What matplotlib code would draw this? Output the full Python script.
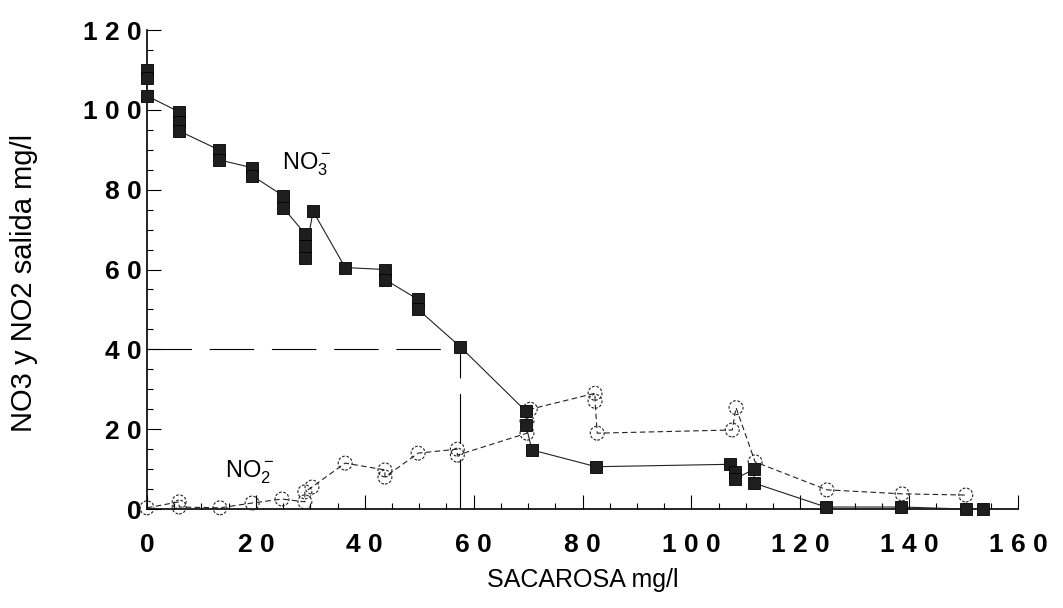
import matplotlib
matplotlib.use('Agg')
import matplotlib.pyplot as plt
from matplotlib.ticker import FixedLocator, FixedFormatter, MultipleLocator

# --- fonts ---
plt.rcParams['font.family'] = ['Liberation Sans', 'DejaVu Sans']
plt.rcParams['mathtext.default'] = 'regular'

# --- data ---
# NO3- (filled squares), in plotting order
no3_x = [0, 0, 0, 5.9, 5.9, 5.9, 13.2, 13.2, 19.3, 19.3, 25.0, 25.0,
         29.0, 29.0, 29.0, 30.5, 36.4, 43.7, 43.7, 49.8, 49.8, 57.5,
         69.6, 69.6, 70.7, 82.5, 107.0, 108.0, 108.0, 111.5, 111.5,
         124.7, 138.5, 150.4, 153.5]
no3_y = [110, 108, 103.5, 99.5, 97, 94.7, 90, 87.5, 85.5, 83.5, 78.5, 75.5,
         69, 66, 63, 74.6, 60.5, 60, 57.5, 52.5, 50, 40.7,
         24.5, 21, 14.8, 10.6, 11.2, 9.3, 7.5, 10, 6.5,
         0.5, 0.5, 0, 0]

# NO2- (open circles), in plotting order
no2_x = [0, 5.9, 5.9, 13.4, 19.3, 24.8, 29.0, 29.0, 30.3, 36.4, 43.7, 43.7,
         49.8, 57.0, 57.0, 69.8, 69.8, 70.4, 82.3, 82.3, 82.7, 107.5,
         108.2, 111.7, 124.9, 138.7, 150.4]
no2_y = [0.3, 1.8, 0.5, 0.3, 1.5, 2.5, 1.8, 4.3, 5.5, 11.5, 9.8, 8,
         14, 15, 13.5, 19, 22, 25, 29, 27, 19, 19.8,
         25.4, 11.8, 4.8, 3.8, 3.5]

# guide lines: sucrose needed for 40 mg/l NO3
ref_x = 57.5
ref_y = 40

x_ticks = [0, 20, 40, 60, 80, 100, 120, 140, 160]
y_ticks = [0, 20, 40, 60, 80, 100, 120]

fig = plt.figure(figsize=(10.63, 6.08), dpi=100)
ax = fig.add_axes([0.1383, 0.1628, 0.8194, 0.7878])

# guide lines
ax.plot([0, ref_x], [ref_y, ref_y], color='black', lw=0.8, ls=(0, (40, 16)))
ax.plot([ref_x, ref_x], [0, ref_y], color='black', lw=0.8, ls=(0, (45, 14)))

# series lines
ax.plot(no3_x, no3_y, color='#222222', lw=0.8, ls='-', clip_on=False, zorder=3)
ax.plot(no2_x, no2_y, color='#222222', lw=0.8, ls=(0, (5, 3)), clip_on=False, zorder=3)

# markers
ax.plot(no3_x, no3_y, ls='none', marker='s', ms=9, mfc='#1e1e1e',
        mec='black', mew=0.6, clip_on=False, zorder=4)
ax.scatter(no2_x, no2_y, s=100, facecolors='none', edgecolors='#222222',
           linewidths=0.8, linestyles=(0, (2.5, 1.5)), clip_on=False, zorder=5)

# species labels
ax.text(24.8, 85, r'NO$_3^-$', fontsize=17, va='baseline', ha='left')
ax.text(14.3, 8, r'NO$_2^-$', fontsize=17, va='baseline', ha='left')

# axes
ax.set_xlim(0, 160)
ax.set_ylim(0, 120)
for side in ['top', 'right']:
    ax.spines[side].set_visible(False)
for side in ['left', 'bottom']:
    ax.spines[side].set_linewidth(1.2)

ax.xaxis.set_major_locator(FixedLocator(x_ticks))
ax.xaxis.set_major_formatter(FixedFormatter([' '.join(str(v)) for v in x_ticks]))
ax.yaxis.set_major_locator(FixedLocator(y_ticks))
ax.yaxis.set_major_formatter(FixedFormatter([' '.join(str(v)) for v in y_ticks]))
ax.xaxis.set_minor_locator(MultipleLocator(5))
ax.yaxis.set_minor_locator(MultipleLocator(5))

ax.tick_params(which='major', direction='in', length=10, width=0.8)
ax.tick_params(which='minor', direction='in', length=4, width=0.8)
ax.tick_params(axis='x', which='major', pad=17)
ax.tick_params(axis='y', which='major', pad=4)
for lab in ax.get_xticklabels() + ax.get_yticklabels():
    lab.set_fontsize(19)
    lab.set_fontweight('bold')

ax.set_xlabel('SACAROSA mg/l', fontsize=18, va='center')
ax.xaxis.set_label_coords(0.5, -0.148)
ax.set_ylabel('NO3 y NO2 salida mg/l', fontsize=21, va='center')
ax.yaxis.set_label_coords(-0.141, 0.472)

fig.savefig('out.png', dpi=100)
